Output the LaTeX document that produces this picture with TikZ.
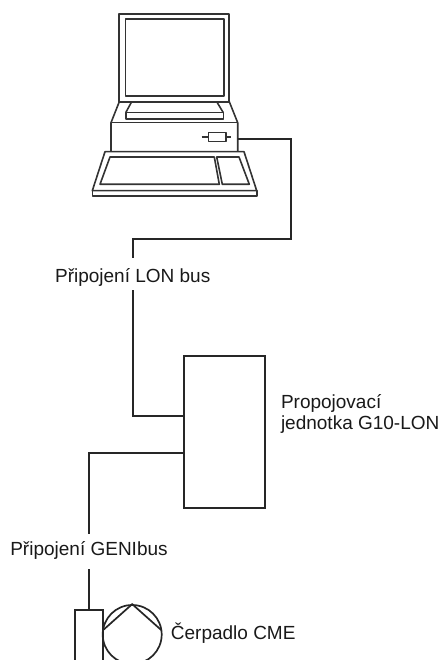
\documentclass[tikz,border=0pt]{standalone}
\usepackage{fontspec}
\setmainfont{Liberation Sans}
\usetikzlibrary{calc}

\begin{document}
\begin{tikzpicture}[x=1pt, y=-1pt,
    pcline/.style={line width=1.6pt, black!80, line join=round},
    cable/.style={line width=1.7pt, black!85},
    lbl/.style={inner sep=0pt, text=black!90, font=\fontsize{19pt}{21pt}\selectfont}]
        \clip (0,0) rectangle (444,660);

        % Monitor and stand
        \draw[pcline, line width=2.1pt] (119.3,14) rectangle (229.3,101.7);
        \draw[pcline] (125.3,19.3) rectangle (224,96);
        \draw[pcline] (131.7,101.7) -- (125.7,112.7);
        \draw[pcline] (216.7,101.7) -- (223.3,112.7);
        \draw[pcline] (125.7,112.7) rectangle (223.3,119.3);

        % Case
        \draw[pcline] (119.3,101.7) -- (111,122.7) -- (111,151.7);
        \draw[pcline] (229.3,101.7) -- (237.7,122.7) -- (237.7,151.7);
        \draw[pcline] (111,122.7) -- (237.7,122.7);
        \draw[pcline] (201.7,137.3) -- (208.3,137.3) (226,137.3) -- (231,137.3);
        \draw[pcline] (208.3,132.7) rectangle (226,141.7);
        \coordinate (port) at (237.7,139.3);

        % Keyboard
        \draw[pcline] (105,151.7) -- (244,151.7) -- (256.7,190.7) -- (92.3,190.7) -- cycle;
        \draw[pcline] (92.3,190.7) rectangle (256.7,196);
        \draw[pcline] (110,157) -- (214.3,157) -- (219.3,184.3) -- (100,184.3) -- cycle;
        \draw[pcline] (216.7,157) -- (239,157) -- (249.3,184.3) -- (222.3,184.3) -- cycle;

        % G10-LON unit
        \node[draw, cable, minimum width=80.7pt, minimum height=151.7pt, inner sep=0pt] (g10) at (224.65,431.85) {};
        \node[lbl, anchor=base west, align=left] (g10lbl) at (280.8,429.5) {Propojovací\\jednotka G10-LON};

        % Pump
        \node[draw, cable, minimum width=27.6pt, minimum height=90pt, inner sep=0pt] (motor) at (89,655) {};
        \node[draw, cable, circle, minimum size=59pt, inner sep=0pt] (pump) at (132.2,634.5) {};
        \draw[cable] (103.2,630) -- (pump.north) -- (161.2,630);
        \node[lbl, anchor=base west] (pumplbl) at (170.7,639) {Čerpadlo CME};

        % Bus labels
        \node[lbl, anchor=base, text height=24.6pt, text depth=7.7pt] (lonlbl) at (132.7,282.3) {Připojení LON bus};
        \node[lbl, anchor=base, text height=21pt, text depth=14pt] (genilbl) at (89,555) {Připojení GENIbus};

        % Bus lines
        \draw[cable] (port) -| (291,239) -| (lonlbl.north);
        \draw[cable] (lonlbl.south) |- ($(g10.west)+(0,-16.15)$);
        \draw[cable] ($(g10.west)+(0,20.85)$) -| (genilbl.north);
        \draw[cable] (genilbl.south) -- (motor.north);
\end{tikzpicture}
\end{document}
